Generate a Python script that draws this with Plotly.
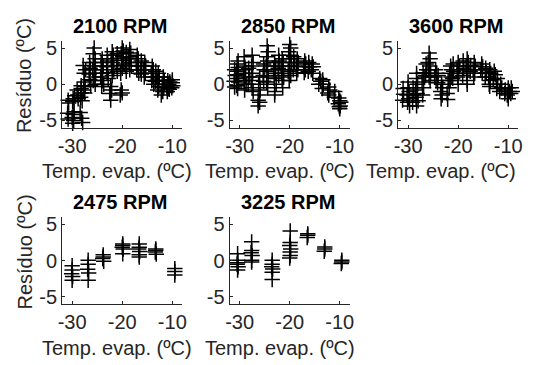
import plotly.graph_objects as go

# ---------------- data ----------------
rpm_labels = ["2100 RPM", "2850 RPM", "3600 RPM", "2475 RPM", "3225 RPM"]

evap_2100 = [-29.8, -29.9, -29.6, -29.8, -30.0, -29.7, -29.9, -29.5,
             -28.1, -28.3, -28.0, -28.2, -28.4, -28.1, -27.9, -28.2,
             -27.6, -27.4, -27.7, -27.5, -27.8, -27.3, -27.6,
             -25.6, -25.8, -25.4, -25.7, -25.5, -25.9, -25.3, -25.6, -25.8, -25.4,
             -24.0, -24.2, -23.8, -24.1, -23.9, -24.3, -24.0, -23.7, -24.1,
             -22.3, -22.1, -22.5, -22.3,
             -20.2, -20.0, -20.4,
             -22.0, -21.8, -22.2, -21.9, -22.1, -21.7, -22.0,
             -20.0, -19.8, -20.2, -19.9, -20.1, -19.7, -20.0, -20.3,
             -18.5, -18.3, -18.7, -18.4, -18.6, -18.2, -18.5,
             -17.0, -16.8, -17.2, -16.9, -17.1, -16.7,
             -15.5, -15.3, -15.7, -15.4, -15.6,
             -14.0, -13.8, -14.2, -13.9, -14.1, -13.7,
             -12.8, -12.6, -13.0, -12.7, -12.9, -12.2,
             -11.8, -11.6, -12.0, -11.7, -11.9,
             -10.9, -10.7, -11.1, -10.8, -11.0,
             -10.0, -9.9, -10.1, -10.0,
             -26.5, -26.4, -26.6, -26.5, -26.3,
             -23.0, -22.9, -23.1, -23.0, -22.8,
             -21.0, -20.9, -21.1, -21.0,
             -19.2, -19.1, -19.3, -19.2,
             -16.2, -16.1, -16.3, -16.2,
             -13.3, -13.2, -13.4,
             -10.5, -10.4, -10.6,
             -30.8, -30.7, -30.9, -30.8,
             -28.9, -28.8, -29.0]
res_2100 = [-2.0, -2.4, -3.8, -4.2, -4.6, -5.0, -5.4, -1.6,
            -1.2, -1.8, -2.3, -0.6, -3.9, -4.7, -5.3, -0.2,
            0.3, -0.3, -0.8, -1.2, 2.6, 2.0, 1.5,
            5.0, 4.2, 3.5, 3.0, 2.5, 2.0, 1.5, 1.0, 0.5, 0.0,
            3.5, 3.0, 2.5, 2.0, 1.5, 1.0, 0.5, 0.0, -0.3,
            -0.3, -0.8, -1.3, -2.2,
            -0.8, -1.2, -1.5,
            4.5, 4.0, 3.5, 3.0, 2.5, 2.0, 1.2,
            5.0, 4.6, 4.2, 3.8, 3.3, 2.8, 2.2, 1.5,
            4.8, 4.3, 3.8, 3.5, 3.0, 2.5, 2.0,
            4.0, 3.5, 3.0, 2.5, 2.0, 1.5,
            3.0, 2.5, 2.0, 1.5, 1.0,
            2.5, 2.0, 1.5, 1.0, 0.5, 0.0,
            1.5, 1.0, 0.5, -0.3, -0.8, -1.5,
            1.0, 0.5, 0.0, -0.5, -1.0,
            0.5, 0.0, -0.3, -0.6, -1.0,
            0.2, -0.2, -0.5, 0.6,
            3.0, 2.2, 1.4, 0.6, -0.2,
            4.0, 3.2, 2.4, 1.6, 0.8,
            4.2, 3.6, 2.6, 1.8,
            4.4, 3.6, 2.6, 1.8,
            3.2, 2.6, 2.0, 1.4,
            1.8, 1.0, 0.4,
            0.3, -0.2, -0.7,
            -2.2, -2.6, -4.0, -4.8,
            -1.5, -2.0, -0.8]

evap_2850 = [-30.5, -30.3, -30.6, -30.4, -30.5, -30.2, -30.6, -30.4, -30.3,
             -29.0, -28.8, -29.2, -28.9, -29.1, -28.7, -29.0, -29.1,
             -27.5, -27.3, -27.6, -27.4, -27.7, -27.5, -27.3,
             -26.0, -26.2, -25.9, -26.1, -26.3, -26.0, -26.3,
             -24.5, -24.3, -24.6, -24.4, -24.7, -24.5, -24.3, -24.6, -24.4,
             -23.0, -22.8, -23.2, -22.9, -23.1, -22.7, -23.0, -23.0,
             -21.5, -21.3, -21.7, -21.4, -21.6, -21.2, -21.5, -21.4,
             -20.0, -19.8, -20.2, -19.9, -20.1, -19.7, -20.0, -20.3, -19.8, -20.1,
             -18.5, -18.3, -18.7, -18.4, -18.6,
             -17.0, -16.8, -17.2, -16.9, -17.1,
             -15.5, -15.3, -15.7, -15.4,
             -14.0, -13.8, -14.2,
             -12.2, -12.0, -12.4, -12.2,
             -10.2, -10.0, -10.3, -10.1, -10.0,
             -31.0, -30.9, -31.1, -31.0,
             -28.2, -28.1, -28.3,
             -25.2, -25.1, -25.3, -25.2,
             -22.2, -22.1, -22.3, -22.2,
             -19.2, -19.1, -19.3,
             -16.2, -16.1, -16.3,
             -13.4, -13.3, -13.5,
             -11.0, -11.1,
             -9.8, -9.9]
res_2850 = [2.8, 2.3, 1.8, 1.3, 0.8, 0.3, -0.2, -0.6, 3.2,
            2.5, 2.0, 1.5, 1.0, 0.5, 0.0, -0.8, 3.8,
            4.0, 3.0, 2.5, 1.5, 0.5, -0.5, -1.0,
            1.0, 0.0, -0.8, -1.5, -2.2, -2.5, -3.0,
            5.3, 4.5, 3.8, 3.2, 2.5, 1.8, 1.0, 0.3, -0.5,
            3.0, 2.5, 2.0, 1.5, 0.8, 0.0, -1.0, -1.5,
            3.5, 3.0, 2.5, 2.0, 1.5, 1.0, 0.5, -0.5,
            5.5, 5.0, 4.5, 4.0, 3.5, 3.0, 2.5, 1.8, 1.2, 0.5,
            3.5, 3.0, 2.5, 2.0, 1.5,
            3.2, 2.8, 2.4, 2.0, 1.6,
            2.8, 2.4, 2.0, 1.5,
            0.8, 0.4, 0.0,
            -0.4, -0.8, -1.2, -1.5,
            -1.9, -2.3, -2.7, -3.1, -3.4,
            2.0, 1.2, 0.4, -0.4,
            2.2, 1.0, 0.0,
            2.8, 2.0, 1.2, 0.4,
            4.0, 3.2, 2.2, 1.2,
            3.8, 3.0, 2.0,
            3.0, 2.4, 1.8,
            0.6, 0.0, -0.6,
            -1.0, -1.8,
            -2.5, -3.0]

evap_3600 = [-30.0, -29.8, -30.2, -29.9, -30.1, -29.7, -30.0,
             -28.3, -28.1, -28.5, -28.2, -28.4, -28.0, -28.3, -28.3,
             -27.0, -26.8, -27.2, -26.9, -27.1,
             -25.8, -25.6, -26.0, -25.7, -25.9, -25.5, -25.8, -25.6,
             -24.5, -24.3, -24.7, -24.4,
             -23.3, -23.1, -23.5, -23.2, -23.4,
             -22.0, -21.8, -22.2, -22.1,
             -21.5, -21.3, -21.7, -21.4, -21.6,
             -20.0, -19.8, -20.2, -19.9, -20.1, -20.0,
             -18.2, -18.0, -18.4, -18.1, -18.3, -18.2, -18.2,
             -16.8, -16.6, -17.0, -16.7, -16.9,
             -15.3, -15.1, -15.5, -15.2,
             -13.7, -13.5, -13.9, -13.6, -13.8, -13.7,
             -12.8, -12.6, -13.0,
             -11.5, -11.3, -11.7,
             -10.0, -9.8, -10.2, -10.0,
             -9.4, -9.2, -9.5,
             -31.0, -30.9, -31.1,
             -29.0, -28.9, -29.1,
             -26.4, -26.3, -26.5,
             -24.0, -24.1,
             -21.0, -20.9, -21.1,
             -19.0, -18.9, -19.1,
             -17.5, -17.6,
             -14.5, -14.4, -14.6,
             -12.2, -12.1, -12.3,
             -10.6, -10.7]
res_3600 = [-0.5, -1.0, -1.5, -2.0, -2.5, -3.0, 0.3,
            0.8, 0.0, -0.8, -1.3, -1.8, -2.3, -3.0, 1.5,
            1.6, 1.0, 0.3, -0.5, -1.5,
            4.3, 3.5, 3.0, 2.5, 2.0, 1.5, 1.0, 0.5,
            2.0, 1.5, 1.0, 0.5,
            0.0, -0.5, -1.0, -1.5, -2.0,
            0.5, -0.5, -1.3, -2.1,
            2.5, 2.0, 1.5, 1.0, 0.5,
            3.0, 2.5, 2.0, 1.5, 1.0, 0.0,
            3.5, 3.0, 2.5, 2.0, 1.5, 0.5, 0.0,
            3.0, 2.5, 2.0, 1.5, 1.0,
            2.8, 2.4, 2.0, 1.5,
            2.0, 1.5, 1.0, 0.5, 0.0, -0.3,
            1.8, 1.3, 0.6,
            0.0, -0.5, -1.0,
            -0.5, -1.0, -1.5, -2.0,
            -0.5, -1.0, -1.3,
            -0.6, -1.4, -2.2,
            -0.5, -1.5, -2.5,
            2.8, 2.0, 1.2,
            1.2, 0.2,
            2.8, 1.8, 0.8,
            3.2, 2.2, 1.2,
            2.6, 1.8,
            2.2, 1.6, 1.0,
            0.8, 0.0, -0.6,
            -0.8, -1.3]

evap_2475 = [-30.0, -30.0, -30.1, -29.9, -30.0,
             -26.8, -26.8, -26.9, -26.7, -26.8,
             -23.8, -23.8, -23.9, -23.7,
             -19.9, -19.9, -20.0, -19.8, -19.9,
             -16.6, -16.6, -16.7, -16.5, -16.6, -16.6,
             -13.3, -13.3, -13.4, -13.2,
             -9.5, -9.5, -9.5]
res_2475 = [-0.7, -1.3, -1.8, -2.2, -2.7,
            0.05, -0.5, -1.2, -1.7, -2.7,
            0.8, 0.5, 0.3, -0.1,
            2.3, 2.1, 1.85, 1.6, 0.95,
            2.3, 1.85, 1.6, 1.25, 0.8, 0.5,
            1.6, 1.4, 1.2, 0.9,
            -1.1, -1.5, -2.0]

evap_3225 = [-30.4, -30.4, -30.5, -30.3, -30.4, -30.4,
             -27.6, -27.6, -27.7, -27.5, -27.6, -27.6,
             -23.5, -23.5, -23.6, -23.4, -23.5, -23.5,
             -19.9, -19.9, -20.0, -19.8, -19.9, -19.9, -20.0,
             -16.4, -16.4, -16.5,
             -13.0, -13.0, -13.1,
             -9.6, -9.6, -9.7]
res_3225 = [0.05, -0.3, -0.5, -0.85, -1.3, 0.95,
            2.6, 1.4, 1.1, 0.7, 0.05, -0.2,
            0.05, -0.5, -0.85, -1.15, -1.6, -2.6,
            4.1, 2.5, 2.1, 1.6, 1.2, 0.7, 0.35,
            3.7, 3.5, 3.2,
            1.9, 1.6, 1.3,
            0.05, -0.2, -0.4]

x_ticks = [-30, -20, -10]
x_ticktext = ["-30", "-20", "-10"]
y_ticks = [-5, 0, 5]
y_ticktext = ["-5", "0", "5"]
x_title = "Temp. evap. (ºC)"
y_title = "Resíduo (ºC)"

series = [(evap_2100, res_2100), (evap_2850, res_2850), (evap_3600, res_3600),
          (evap_2475, res_2475), (evap_3225, res_3225)]

# ---------------- layout geometry (pixels) ----------------
W, H = 540, 365
col_px = [(59, 181), (229, 351), (400, 522)]
row_px = [(37.6, 126.4), (218.0, 306.8)]
panel_pos = [(0, 0), (0, 1), (0, 2), (1, 0), (1, 1)]
xlabel_cx = [115, 280, 444]

FONT = "Liberation Sans, Arial, sans-serif"
AX = "#262626"

fig = go.Figure()
annotations = []
layout_axes = {}

for i, ((r, c), (xs, ys), lab) in enumerate(zip(panel_pos, series, rpm_labels)):
    n = i + 1
    xa = "x" if n == 1 else f"x{n}"
    ya = "y" if n == 1 else f"y{n}"
    fig.add_trace(go.Scatter(
        x=xs, y=ys, mode="markers", xaxis=xa, yaxis=ya, showlegend=False,
        cliponaxis=False,
        marker=dict(symbol="cross-thin", size=11, color="black",
                    line=dict(width=1.5, color="black")),
    ))
    x0, x1 = col_px[c]
    top, bot = row_px[r]
    common = dict(showline=True, linecolor=AX, linewidth=1, ticks="inside",
                  ticklen=3, tickcolor=AX, tickwidth=1, showgrid=False,
                  zeroline=False, mirror=False,
                  tickfont=dict(family=FONT, size=20, color=AX))
    layout_axes["xaxis" if n == 1 else f"xaxis{n}"] = dict(
        domain=[x0 / W, x1 / W], range=[-32, -8], tickvals=x_ticks,
        ticktext=x_ticktext, anchor=ya, **common)
    layout_axes["yaxis" if n == 1 else f"yaxis{n}"] = dict(
        domain=[1 - bot / H, 1 - top / H], range=[-6, 6], tickvals=y_ticks,
        ticktext=y_ticktext, anchor=xa, **common)

    # subplot title
    annotations.append(dict(
        text=f"<b>{lab}</b>", x=(x0 + x1) / 2 / W - 1.5 / W,
        y=1 - (top - 15.5) / H, xref="paper", yref="paper",
        xanchor="center", yanchor="middle", showarrow=False,
        font=dict(family=FONT, size=20, color="black")))
    # x label
    annotations.append(dict(
        text=x_title, x=xlabel_cx[c] / W, y=1 - (bot + 44.5) / H,
        xref="paper", yref="paper", xanchor="center", yanchor="middle",
        showarrow=False, font=dict(family=FONT, size=20, color=AX)))
    # y label on first column
    if c == 0:
        annotations.append(dict(
            text=y_title, x=21 / W, y=1 - ((top + bot) / 2 - 9) / H,
            xref="paper", yref="paper", xanchor="center", yanchor="middle",
            textangle=-90, showarrow=False,
            font=dict(family=FONT, size=20, color=AX)))

fig.update_layout(
    width=W, height=H, margin=dict(l=0, r=0, t=0, b=0),
    paper_bgcolor="white", plot_bgcolor="white",
    annotations=annotations, **layout_axes)

fig.write_html("out.html",
               config={"displayModeBar": False},
               post_script="document.body.style.margin='0px';"
                           "document.body.style.overflow='hidden';")
